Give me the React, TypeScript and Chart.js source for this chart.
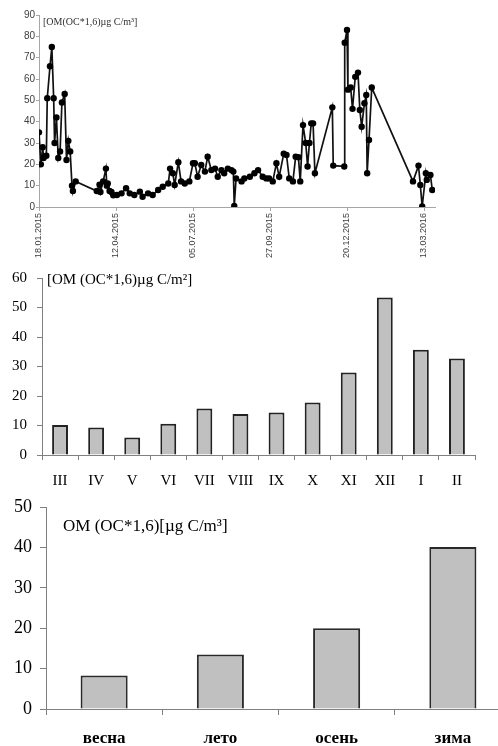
import React, { useEffect, useRef } from "react";
import { Chart, registerables } from "chart.js";

Chart.register(...registerables);

// ---- Chart 1: daily OM (days since 18.01.2015) ----
const dailyDays = [
  0, 2, 4, 5, 8, 9, 12, 14, 16, 17,
  19, 21, 23, 25, 28, 30, 32, 34, 36, 37,
  40, 63, 66, 67, 70, 73, 74, 75, 77, 79,
  81, 85, 90, 95, 99, 104, 110, 113, 119, 124,
  130, 135, 141, 143, 146, 148, 152, 155, 159, 164,
  168, 170, 173, 177, 181, 184, 188, 192, 195, 199,
  202, 206, 210, 212, 213, 215, 221, 224, 230, 235,
  239, 244, 248, 251, 255, 259, 262, 267, 270, 273,
  277, 280, 283, 285, 288, 291, 293, 295, 297, 299,
  301, 320, 321, 333, 333.5, 336, 337, 340, 342, 345,
  348, 350, 352, 355, 357, 358, 360, 363, 408, 414,
  416, 418, 422, 423, 427, 429,
];
const dailyOM = [
  35, 20, 28, 23, 24, 51, 66, 75, 51, 30,
  42, 23, 26, 49, 53, 22, 31, 26, 10, 7.5,
  12, 7.5, 10.5, 7, 12, 18, 10, 11, 7.5, 7,
  5.5, 5.6, 6.4, 8.8, 6.4, 5.6, 7.2, 4.8, 6.4, 5.6,
  8, 9.5, 11, 18, 15.8, 10.3, 21, 12, 11, 12,
  20.5, 20.5, 14.2, 19.7, 16.6, 23.6, 17.3, 18, 14.2, 17.3,
  15.8, 18, 17.3, 16.6, 0.5, 13.4, 12, 13.4, 14.2, 15.8,
  17.3, 14.2, 13.4, 13.4, 12, 20.5, 14.2, 25, 24.4, 13.4,
  12, 23.6, 23.3, 12, 38.4, 30, 19, 30, 39.2, 39.2,
  15.8, 46.7, 19.4, 19, 77, 83, 55, 56, 46, 61,
  63, 45.5, 37.6, 48.6, 52.5, 15.8, 31.4, 56, 12, 19.4,
  10.3, 0.2, 15.8, 12.7, 15, 8,
];
const dateTickDays = [0, 84, 168, 252, 336, 420];
const dateTickLabels = ["18.01.2015", "12.04.2015", "05.07.2015", "27.09.2015", "20.12.2015", "13.03.2016"];

// ---- Chart 2: monthly ----
const monthLabels = ["III", "IV", "V", "VI", "VII", "VIII", "IX", "X", "XI", "XII", "I", "II"];
const monthlyOM = [10.2, 9.3, 5.9, 10.6, 15.8, 13.9, 14.4, 17.8, 28, 53.4, 35.7, 32.7];

// ---- Chart 3: seasonal ----
const seasonLabels = ["весна", "лето", "осень", "зима"];
const seasonalOM = [8.3, 13.5, 20.0, 40.1];

const title1 = "[OM(OC*1,6)µg C/m³]";
const title2 = "[OM (OC*1,6)µg C/m²]";
const title3 = "OM (OC*1,6)[µg C/m³]";

const SERIF = "'Liberation Serif', 'Times New Roman', serif";
const SANS = "'Liberation Sans', Arial, sans-serif";

function fixBox(size: number, dim: "width" | "height") {
  return (s: any) => {
    s[dim] = size;
    s.paddingTop = 0;
    s.paddingBottom = 0;
    s.paddingLeft = 0;
    s.paddingRight = 0;
  };
}

function textPlugin(id: string, text: string, x: number, y: number, font: string, color: string) {
  return {
    id,
    afterDraw(chart: any) {
      const ctx = chart.ctx;
      ctx.save();
      ctx.font = font;
      ctx.fillStyle = color;
      ctx.textAlign = "left";
      ctx.textBaseline = "alphabetic";
      ctx.fillText(text, x, y);
      ctx.restore();
    },
  };
}

function useChart(ref: React.RefObject<HTMLCanvasElement>, makeConfig: () => any) {
  useEffect(() => {
    if (!ref.current) return;
    const chart = new Chart(ref.current, makeConfig());
    return () => chart.destroy();
  }, []);
}

export default function App() {
  const c1 = useRef<HTMLCanvasElement>(null);
  const c2 = useRef<HTMLCanvasElement>(null);
  const c3 = useRef<HTMLCanvasElement>(null);

  useChart(c1, () => ({
    type: "line",
    data: {
      datasets: [
        {
          data: dailyDays.map((d, i) => ({ x: d, y: dailyOM[i] })),
          borderColor: "#111",
          borderWidth: 1.7,
          pointRadius: 3.2,
          pointBackgroundColor: "#000",
          pointBorderColor: "#000",
          pointBorderWidth: 0,
          tension: 0,
        },
      ],
    },
    options: {
      responsive: false,
      animation: false,
      devicePixelRatio: 1,
      layout: { padding: { top: 15, left: 0, right: 63, bottom: 0 } },
      plugins: { legend: { display: false }, tooltip: { enabled: false } },
      scales: {
        x: {
          type: "linear",
          min: 0,
          max: 432,
          afterFit: fixBox(55, "height"),
          afterBuildTicks: (s: any) => {
            s.ticks = dateTickDays.map((v) => ({ value: v }));
          },
          ticks: {
            autoSkip: false,
            minRotation: 90,
            maxRotation: 90,
            padding: 2,
            color: "#404040",
            font: { family: SANS, size: 9 },
            callback: (v: number) => dateTickLabels[dateTickDays.indexOf(v)] ?? "",
          },
          grid: { drawOnChartArea: false, drawTicks: true, tickLength: 4, color: "#a6a6a6" },
          border: { display: true, color: "#a6a6a6", width: 1 },
        },
        y: {
          min: 0,
          max: 90,
          afterFit: fixBox(39, "width"),
          ticks: { stepSize: 10, padding: 1, color: "#404040", font: { family: SANS, size: 10 } },
          grid: { drawOnChartArea: false, drawTicks: true, tickLength: 3, color: "#a6a6a6" },
          border: { display: true, color: "#a6a6a6", width: 1 },
        },
      },
    },
    plugins: [textPlugin("t1", title1, 43, 25, `10px ${SERIF}`, "#303030")],
  }));

  useChart(c2, () => ({
    type: "bar",
    data: {
      labels: monthLabels,
      datasets: [
        {
          data: monthlyOM,
          backgroundColor: "#c0c0c0",
          borderColor: "#222",
          borderWidth: 2,
          barPercentage: 0.44,
          categoryPercentage: 1,
        },
      ],
    },
    options: {
      responsive: false,
      animation: false,
      devicePixelRatio: 1,
      layout: { padding: { top: 16, left: 0, right: 23, bottom: 0 } },
      plugins: { legend: { display: false }, tooltip: { enabled: false } },
      scales: {
        x: {
          afterFit: fixBox(35, "height"),
          ticks: { padding: 12, color: "#000", font: { family: SERIF, size: 15 }, maxRotation: 0, autoSkip: false },
          grid: { offset: true, drawOnChartArea: false, drawTicks: true, tickLength: 5, color: "#808080" },
          border: { display: true, color: "#808080", width: 1 },
        },
        y: {
          min: 0,
          max: 60,
          afterFit: fixBox(42, "width"),
          ticks: { stepSize: 10, padding: 10, color: "#000", font: { family: SERIF, size: 15 } },
          grid: { drawOnChartArea: false, drawTicks: true, tickLength: 5, color: "#808080" },
          border: { display: true, color: "#808080", width: 1 },
        },
      },
    },
    plugins: [textPlugin("t2", title2, 47, 22, `15px ${SERIF}`, "#000")],
  }));

  useChart(c3, () => ({
    type: "bar",
    data: {
      labels: seasonLabels,
      datasets: [
        {
          data: seasonalOM,
          backgroundColor: "#c0c0c0",
          borderColor: "#2a2a2a",
          borderWidth: 2,
          barPercentage: 0.405,
          categoryPercentage: 1,
        },
      ],
    },
    options: {
      responsive: false,
      animation: false,
      devicePixelRatio: 1,
      layout: { padding: { top: 17, left: 0, right: 19, bottom: 0 } },
      plugins: { legend: { display: false }, tooltip: { enabled: false } },
      scales: {
        x: {
          afterFit: fixBox(37, "height"),
          ticks: { padding: 13, color: "#000", font: { family: SERIF, size: 17, weight: "bold" }, maxRotation: 0, autoSkip: false },
          grid: { offset: true, drawOnChartArea: false, drawTicks: true, tickLength: 6, color: "#808080" },
          border: { display: true, color: "#808080", width: 1 },
        },
        y: {
          min: 0,
          max: 50,
          afterFit: fixBox(46, "width"),
          ticks: { stepSize: 10, padding: 8, color: "#000", font: { family: SERIF, size: 18 } },
          grid: { drawOnChartArea: false, drawTicks: true, tickLength: 6, color: "#808080" },
          border: { display: true, color: "#808080", width: 1 },
        },
      },
    },
    plugins: [textPlugin("t3", title3, 63, 41, `17px ${SERIF}`, "#000")],
  }));

  const abs = (top: number, w: number, h: number): React.CSSProperties => ({
    position: "absolute",
    left: 0,
    top,
    width: w,
    height: h,
    display: "block",
  });

  return (
    <div style={{ position: "fixed", left: 0, top: 0, width: 498, height: 746, overflow: "hidden", background: "#fff" }}>
      <canvas ref={c1} width={498} height={262} style={abs(0, 498, 262)} />
      <canvas ref={c2} width={498} height={228} style={abs(262, 498, 228)} />
      <canvas ref={c3} width={530} height={256} style={abs(490, 530, 256)} />
    </div>
  );
}
